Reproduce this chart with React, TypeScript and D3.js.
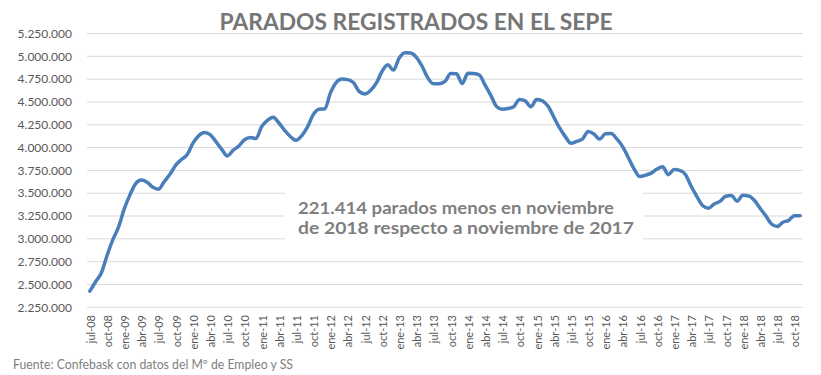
import React from 'react';
import * as d3 from 'd3';

const monthNames = ['ene', 'feb', 'mar', 'abr', 'may', 'jun', 'jul', 'ago', 'sep', 'oct', 'nov', 'dic'];
const startYear = 2008;
const startMonth = 6; // jul

const parados2008 = [2426076, 2530001, 2625368, 2818026, 2989269, 3128963];
const parados2009 = [3327801, 3481859, 3605402, 3644041, 3620139, 3564889, 3544018, 3629080, 3709447, 3808353, 3868946, 3923603];
const parados2010 = [4048493, 4130625, 4166613, 4142425, 4066202, 3982368, 3908962, 3969661, 4017763, 4085976, 4110294, 4100073];
const parados2011 = [4231003, 4299263, 4333669, 4269360, 4189659, 4121801, 4079742, 4130927, 4226744, 4360926, 4420462, 4422359];
const parados2012 = [4599829, 4712098, 4750867, 4744235, 4714122, 4615269, 4587455, 4625634, 4705279, 4833521, 4907817, 4848723];
const parados2013 = [4980778, 5040222, 5035243, 4989193, 4890928, 4763680, 4698814, 4699939, 4724355, 4811383, 4808908, 4701338];
const parados2014 = [4814435, 4812486, 4795866, 4684301, 4572385, 4449701, 4419860, 4427930, 4447650, 4526804, 4512116, 4447711];
const parados2015 = [4525691, 4512153, 4451939, 4333016, 4215031, 4120304, 4046276, 4067955, 4094042, 4176369, 4149298, 4093508];
const parados2016 = [4150710, 4152986, 4094770, 4011171, 3891403, 3767054, 3683061, 3697496, 3720297, 3764982, 3789823, 3702974];
const parados2017 = [3760231, 3750876, 3702317, 3573036, 3461128, 3362811, 3335924, 3382324, 3410182, 3467026, 3474281, 3412781];
const parados2018 = [3476528, 3470248, 3422551, 3335868, 3252130, 3162162, 3135021, 3182068, 3202509, 3254064, 3252867];

const values = [
  ...parados2008, ...parados2009, ...parados2010, ...parados2011, ...parados2012, ...parados2013,
  ...parados2014, ...parados2015, ...parados2016, ...parados2017, ...parados2018,
];

const categories = values.map((_, i) => {
  const m = startMonth + i;
  const y = startYear + Math.floor(m / 12);
  return `${monthNames[m % 12]}-${String(y % 100).padStart(2, '0')}`;
});

const yTicks = [2250000, 2500000, 2750000, 3000000, 3250000, 3500000, 3750000, 4000000, 4250000, 4500000, 4750000, 5000000, 5250000];

const title = 'PARADOS REGISTRADOS EN EL SEPE';
const noteLines = ['221.414 parados menos en noviembre', 'de 2018 respecto a noviembre de 2017'];
const source = 'Fuente: Confebask con datos del Mº de Empleo y SS';

const fmt = (v: number) => d3.format(',')(v).replace(/,/g, '.');

export default function App() {
  const W = 821, H = 375;
  const left = 87, right = 803, top = 33.5, bottom = 307.3;
  const x = d3.scalePoint<string>().domain(categories).range([left, right]).padding(0.5);
  const y = d3.scaleLinear().domain([2250000, 5250000]).range([bottom, top]);
  const line = d3.line<number>()
    .x((_, i) => x(categories[i]) as number)
    .y((d) => y(d))
    .curve(d3.curveMonotoneX);
  const tickCats = categories.filter((_, i) => i % 3 === 0);
  const font = 'Lato, "Open Sans", sans-serif';

  return (
    <svg width={W} height={H} style={{ position: 'absolute', left: 0, top: 0, background: '#fff' }} fontFamily={font}>
      <rect x={0} y={0} width={W} height={H} fill="#fff" />
      <text x={416} y={30} textAnchor="middle" fontSize={22} fontWeight={700} fill="#767676" textLength={393} lengthAdjust="spacingAndGlyphs">{title}</text>
      {yTicks.map((t) => (
        <g key={t}>
          <line x1={left} x2={right} y1={y(t)} y2={y(t)} stroke="#d9d9d9" strokeWidth={1} />
          <text x={72} y={y(t)} dy="0.35em" textAnchor="end" fontSize={12} fill="#595959">{fmt(t)}</text>
        </g>
      ))}
      {tickCats.map((c) => (
        <text key={c} transform={`translate(${(x(c) as number) + 1},315) rotate(-90)`} dy="0.35em" textAnchor="end" fontSize={11} fill="#595959">{c}</text>
      ))}
      <rect x={285} y={183} width={358} height={67} fill="#fff" />
      {noteLines.map((l, i) => (
        <text key={i} x={298} y={214 + i * 20} fontSize={17} fontWeight={700} fill="#7f7f7f" textLength={i === 0 ? 316 : 336} lengthAdjust="spacingAndGlyphs">{l}</text>
      ))}
      <path d={line(values) || ''} fill="none" stroke="#4a7ebb" strokeWidth={3.5} strokeLinejoin="round" strokeLinecap="round" />
      <text x={13} y={369} fontSize={12.5} fill="#7f7f7f" textLength={280} lengthAdjust="spacingAndGlyphs">{source}</text>
    </svg>
  );
}
